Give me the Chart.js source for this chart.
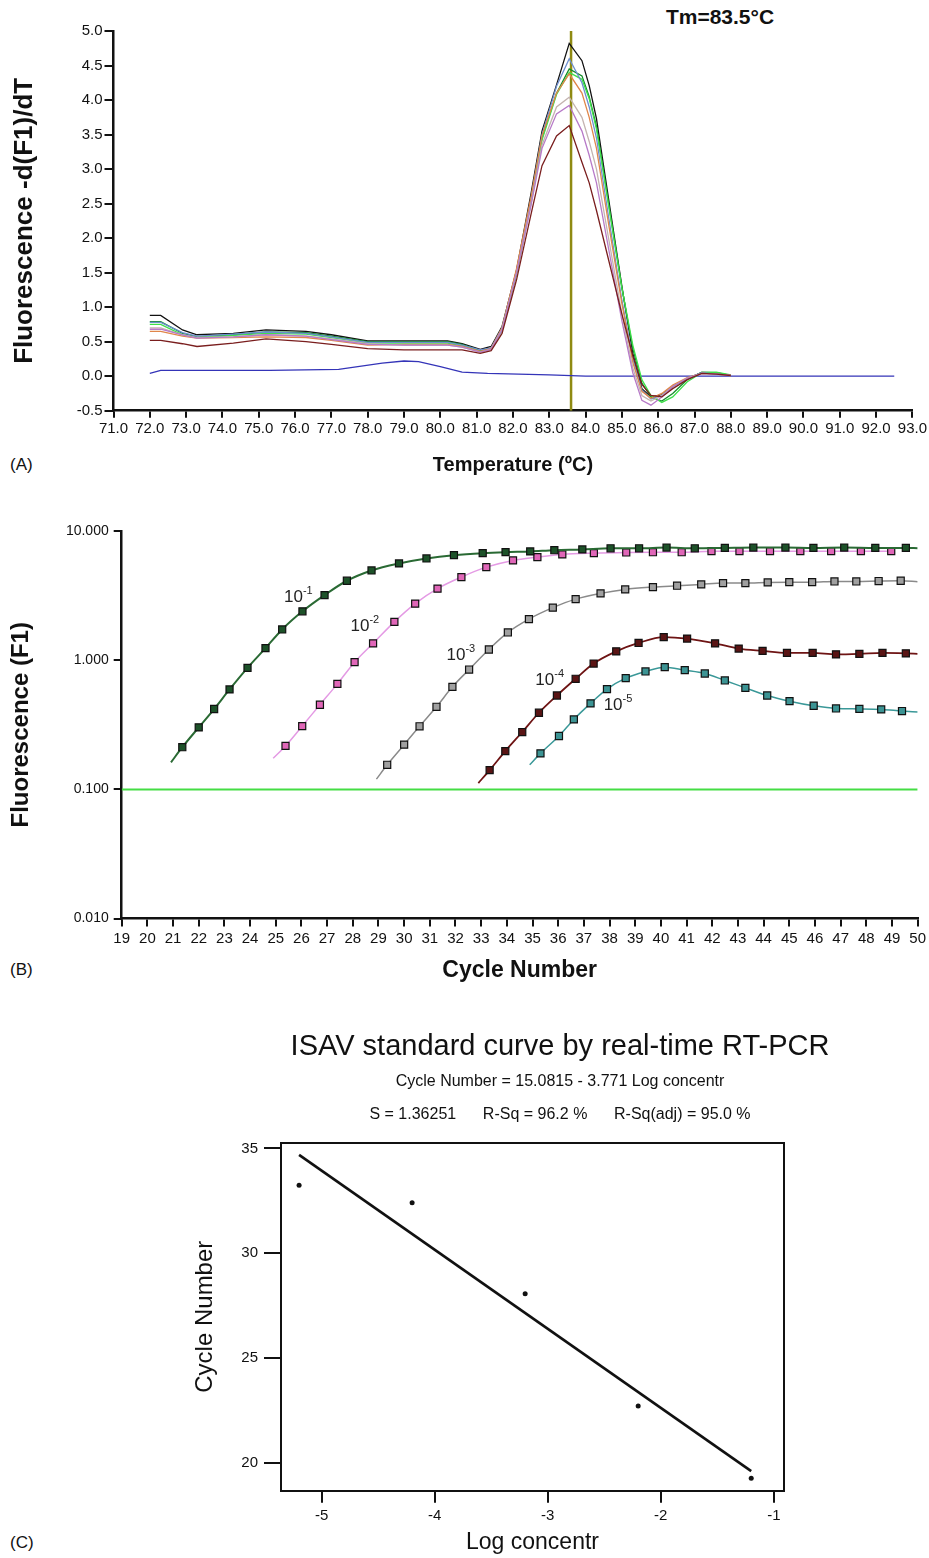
<!DOCTYPE html>
<html>
<head>
<meta charset="utf-8">
<script src="https://cdn.jsdelivr.net/npm/chart.js@4.4.1/dist/chart.umd.min.js"></script>
<style>
  body { margin: 0; background: #fff; width: 929px; height: 1558px; position: relative; overflow: hidden;
         font-family: 'Liberation Sans', Arial, sans-serif; color: #111; }
  canvas { position: absolute; left: 0; }
  .tag { position: absolute; left: 10px; font-size: 17px; line-height: 20px; font-family: 'Liberation Sans Narrow', 'Liberation Sans', Arial, sans-serif; }
  #tm { position: absolute; left: 640px; width: 160px; top: 4px; text-align: center; font-weight: bold; font-size: 21px; line-height: 26px; }
</style>
</head>
<body>
<div id="tm">Tm=83.5°C</div>
<div class="tag" style="top:455px">(A)</div>
<div class="tag" style="top:960px">(B)</div>
<div class="tag" style="top:1533px">(C)</div>
<canvas id="meltChart" width="929" height="490" style="top:0"></canvas>
<canvas id="ampChart" width="929" height="510" style="top:490px"></canvas>
<canvas id="stdChart" width="929" height="558" style="top:1000px"></canvas>
<script>
// ---- (A) melt curves: -d(F1)/dT against temperature ----
const meltTemps = [72.0, 72.3, 72.9, 73.3, 74.3, 75.2, 76.3, 77.0, 78.0, 79.0, 80.2, 80.6, 81.1, 81.4, 81.7, 82.1, 82.5, 82.8,
                   83.2, 83.55, 83.9, 84.1, 84.3, 84.65, 85.0, 85.3, 85.55, 85.8, 86.1, 86.4, 86.8, 87.2, 87.6, 88.0];
const meltBlack  = [0.88, 0.88, 0.67, 0.60, 0.62, 0.67, 0.65, 0.60, 0.51, 0.51, 0.51, 0.47, 0.39, 0.43, 0.72, 1.54, 2.65, 3.55,
                    4.22, 4.82, 4.57, 4.21, 3.73, 2.51, 1.30, 0.33, -0.18, -0.30, -0.27, -0.15, -0.03, 0.05, 0.04, 0.01];
const meltGreen  = [0.79, 0.79, 0.62, 0.57, 0.60, 0.64, 0.63, 0.58, 0.50, 0.50, 0.50, 0.46, 0.37, 0.40, 0.68, 1.50, 2.55, 3.45,
                    4.10, 4.45, 4.35, 4.05, 3.62, 2.45, 1.28, 0.40, -0.10, -0.30, -0.36, -0.25, -0.05, 0.06, 0.05, 0.01];
const meltLime   = [0.75, 0.75, 0.60, 0.56, 0.59, 0.62, 0.61, 0.56, 0.48, 0.48, 0.48, 0.44, 0.36, 0.40, 0.66, 1.48, 2.52, 3.42,
                    4.08, 4.40, 4.30, 4.02, 3.58, 2.42, 1.28, 0.45, -0.05, -0.28, -0.38, -0.30, -0.08, 0.05, 0.06, 0.02];
const meltSteel  = [0.78, 0.78, 0.63, 0.58, 0.61, 0.64, 0.62, 0.57, 0.49, 0.49, 0.49, 0.45, 0.38, 0.41, 0.70, 1.52, 2.58, 3.50,
                    4.20, 4.60, 4.25, 3.90, 3.45, 2.25, 1.10, 0.25, -0.20, -0.33, -0.28, -0.15, -0.03, 0.05, 0.03, 0.01];
const meltOrange = [0.65, 0.65, 0.58, 0.55, 0.56, 0.57, 0.56, 0.52, 0.45, 0.46, 0.46, 0.43, 0.36, 0.40, 0.70, 1.56, 2.60, 3.48,
                    4.10, 4.38, 4.10, 3.75, 3.30, 2.15, 1.05, 0.20, -0.22, -0.32, -0.25, -0.13, -0.02, 0.04, 0.03, 0.01];
const meltGrey   = [0.70, 0.70, 0.60, 0.56, 0.57, 0.60, 0.58, 0.54, 0.47, 0.45, 0.45, 0.42, 0.35, 0.39, 0.68, 1.50, 2.50, 3.35,
                    3.90, 4.04, 3.75, 3.40, 3.00, 1.95, 0.90, 0.12, -0.28, -0.36, -0.28, -0.15, -0.03, 0.04, 0.03, 0.01];
const meltPurple = [0.68, 0.68, 0.60, 0.55, 0.57, 0.60, 0.58, 0.53, 0.46, 0.45, 0.45, 0.42, 0.35, 0.39, 0.67, 1.50, 2.48, 3.30,
                    3.80, 3.92, 3.55, 3.20, 2.80, 1.80, 0.80, 0.05, -0.35, -0.42, -0.30, -0.15, -0.03, 0.04, 0.03, 0.01];
const meltBrown  = [0.52, 0.52, 0.47, 0.43, 0.48, 0.54, 0.50, 0.46, 0.40, 0.38, 0.38, 0.38, 0.33, 0.37, 0.62, 1.40, 2.35, 3.05,
                    3.48, 3.63, 3.10, 2.80, 2.40, 1.65, 0.90, 0.30, -0.12, -0.28, -0.30, -0.18, -0.05, 0.04, 0.03, 0.01];
const ntcTemps   = [72.0, 72.3, 75.3, 77.2, 78.4, 79.0, 79.4, 80.0, 80.6, 81.3, 83.0, 84.0, 92.5];
const ntcValues  = [0.04, 0.085, 0.085, 0.10, 0.19, 0.22, 0.21, 0.14, 0.06, 0.04, 0.02, 0.0, 0.0];
const tmMarker = 83.6;

// ---- (B) amplification curves, one per dilution ----
const d1Cycles = [20.92, 21.36, 22.0, 22.6, 23.2, 23.9, 24.6, 25.25, 26.04, 26.9, 27.77, 28.73, 29.8, 30.87, 31.94, 33.06,
                  33.95, 34.91, 35.85, 36.94, 38.04, 39.15, 40.22, 41.32, 42.49, 43.6, 44.85, 45.94, 47.14, 48.35, 49.54, 50.0];
const d1Values = [0.162, 0.212, 0.302, 0.419, 0.594, 0.873, 1.24, 1.73, 2.39, 3.19, 4.12, 4.95, 5.61, 6.13, 6.50, 6.74,
                  6.86, 6.95, 7.10, 7.20, 7.35, 7.35, 7.45, 7.35, 7.40, 7.45, 7.45, 7.40, 7.45, 7.40, 7.40, 7.35];
const d2Cycles = [24.9, 25.38, 26.03, 26.72, 27.4, 28.07, 28.79, 29.62, 30.43, 31.3, 32.23, 33.2, 34.24, 35.19, 36.16,
                  37.39, 38.65, 39.69, 40.81, 41.97, 43.06, 44.25, 45.43, 46.63, 47.79, 48.97];
const d2Values = [0.174, 0.217, 0.309, 0.452, 0.656, 0.966, 1.35, 1.98, 2.74, 3.58, 4.40, 5.25, 5.92, 6.28, 6.59,
                  6.74, 6.82, 6.85, 6.85, 6.98, 6.98, 6.98, 6.98, 6.98, 6.98, 6.98];
const d3Cycles = [28.92, 29.34, 30.0, 30.6, 31.26, 31.88, 32.53, 33.3, 34.04, 34.86, 35.79, 36.68, 37.65, 38.61, 39.69,
                  40.63, 41.57, 42.42, 43.29, 44.16, 45.0, 45.89, 46.76, 47.61, 48.48, 49.34, 50.0];
const d3Values = [0.12, 0.155, 0.222, 0.308, 0.436, 0.622, 0.847, 1.21, 1.64, 2.08, 2.55, 2.97, 3.29, 3.53, 3.68,
                  3.77, 3.86, 3.95, 3.95, 4.0, 4.02, 4.02, 4.07, 4.07, 4.1, 4.12, 4.05];
const d4Cycles = [32.89, 33.33, 33.94, 34.6, 35.25, 35.95, 36.68, 37.38, 38.26, 39.13, 40.11, 41.02, 42.11, 43.03, 43.96,
                  44.91, 45.91, 46.82, 47.73, 48.63, 49.54, 50.0];
const d4Values = [0.112, 0.141, 0.198, 0.278, 0.392, 0.533, 0.718, 0.942, 1.17, 1.36, 1.51, 1.47, 1.35, 1.23, 1.18,
                  1.14, 1.14, 1.11, 1.12, 1.14, 1.13, 1.12];
const d5Cycles = [34.89, 35.31, 36.03, 36.61, 37.26, 37.9, 38.63, 39.4, 40.15, 40.93, 41.71, 42.49, 43.29, 44.14, 45.01,
                  45.95, 46.82, 47.73, 48.58, 49.39, 50.0];
const d5Values = [0.155, 0.19, 0.259, 0.348, 0.463, 0.597, 0.726, 0.818, 0.883, 0.837, 0.789, 0.697, 0.611, 0.533, 0.482,
                  0.444, 0.423, 0.42, 0.416, 0.404, 0.397];
const dilutionExps  = ['-1', '-2', '-3', '-4', '-5'];
const labelCycles   = [25.32, 27.91, 31.65, 35.11, 37.77];
const labelLevels   = [3.07, 1.84, 1.093, 0.701, 0.449];
const fluorTicks    = [0.01, 0.1, 1, 10];
const threshold     = 0.1;

// ---- (C) standard curve ----
const logConc   = [-5.2, -4.2, -3.2, -2.2, -1.2];
const cycleNum  = [33.24, 32.41, 28.06, 22.71, 19.26];
const fitIntercept = 15.0815;
const fitSlope     = -3.771;
const concTicks    = [-5, -4, -3, -2, -1];
const cycleTicks   = [20, 25, 30, 35];

const NARROW = "'Liberation Sans Narrow', 'Liberation Sans', Arial, sans-serif";
const SANS = "'Liberation Sans', Arial, sans-serif";
const INK = '#111';

function pts(xs, ys) { return xs.map((x, i) => ({ x: x, y: ys[i] })); }

function axisLook(extra) {
  return Object.assign({
    grid: { drawOnChartArea: false, color: INK, lineWidth: 2, tickLength: 8 },
    border: { color: INK, width: 2.5 }
  }, extra);
}

// (A)
const meltSeries = [
  [meltBrown, '#7a1e1e'], [meltPurple, '#b77ac8'], [meltGrey, '#c4b4b0'], [meltOrange, '#e0864a'],
  [meltSteel, '#6d8fd0'], [meltLime, '#3ee04a'], [meltGreen, '#148c2a'], [meltBlack, '#111111']
];
new Chart(document.getElementById('meltChart'), {
  type: 'line',
  data: {
    datasets: meltSeries.map(([vals, col]) => ({
      data: pts(meltTemps, vals), borderColor: col, borderWidth: 1.3
    })).concat([
      { data: pts(ntcTemps, ntcValues), borderColor: '#3434b8', borderWidth: 1.3 },
      { data: [{ x: tmMarker, y: -0.5 }, { x: tmMarker, y: 5.0 }], borderColor: '#8f8a12', borderWidth: 2.5 }
    ])
  },
  options: {
    responsive: false, animation: false,
    layout: { padding: { top: 31, right: 16, left: 0, bottom: 0 } },
    plugins: { legend: { display: false }, tooltip: { enabled: false } },
    elements: { point: { radius: 0 }, line: { tension: 0 } },
    scales: {
      x: axisLook({
        type: 'linear', min: 71, max: 93,
        afterFit: s => { s.height = 79.3; },
        grid: { drawOnChartArea: false, color: INK, lineWidth: 2, tickLength: 7 },
        ticks: { stepSize: 1, autoSkip: false, maxRotation: 0, padding: 2, color: INK,
                 font: { family: NARROW, size: 15 }, callback: v => Number(v).toFixed(1) },
        title: { display: true, text: 'Temperature (ºC)', color: INK,
                 font: { family: NARROW, size: 20, weight: 'bold' }, padding: { top: 0, bottom: 13 } }
      }),
      y: axisLook({
        min: -0.5, max: 5,
        afterFit: s => { s.width = 113.5; },
        grid: { drawOnChartArea: false, color: INK, lineWidth: 2, tickLength: 9 },
        ticks: { stepSize: 0.5, padding: 2, color: INK, font: { family: SANS, size: 15 },
                 callback: v => Number(v).toFixed(1) },
        title: { display: true, text: 'Fluorescence -d(F1)/dT', color: INK,
                 font: { family: SANS, size: 26, weight: 'bold' }, padding: { top: 9, bottom: 0 } }
      })
    }
  }
});

// (B)
const dilutionLabels = {
  id: 'dilutionLabels',
  afterDatasetsDraw(chart) {
    const { ctx, scales: { x, y } } = chart;
    ctx.save();
    ctx.fillStyle = '#222';
    ctx.textBaseline = 'middle';
    dilutionExps.forEach((e, i) => {
      const px = x.getPixelForValue(labelCycles[i]);
      const py = y.getPixelForValue(labelLevels[i]);
      ctx.font = '17px ' + NARROW;
      ctx.fillText('10', px, py);
      const w = ctx.measureText('10').width;
      ctx.font = '11px ' + NARROW;
      ctx.fillText(e, px + w, py - 6);
    });
    ctx.restore();
  }
};

const ampSeries = [
  { c: d1Cycles, v: d1Values, line: '#2a6a34', fill: '#1d5229', w: 2, tail: true },
  { c: d2Cycles, v: d2Values, line: '#e49ae4', fill: '#e066b8', w: 1.5, tail: false },
  { c: d3Cycles, v: d3Values, line: '#8a8a8a', fill: '#a0a0a0', w: 1.5, tail: true },
  { c: d4Cycles, v: d4Values, line: '#6e1414', fill: '#5a1414', w: 1.8, tail: true },
  { c: d5Cycles, v: d5Values, line: '#3a9898', fill: '#3c9494', w: 1.5, tail: true }
];
new Chart(document.getElementById('ampChart'), {
  type: 'line',
  data: {
    datasets: [
      { data: [{ x: 19, y: threshold }, { x: 50, y: threshold }], borderColor: '#44dd44', borderWidth: 2, pointRadius: 0 }
    ].concat(ampSeries.map(s => ({
      data: pts(s.c, s.v), borderColor: s.line, borderWidth: s.w,
      cubicInterpolationMode: 'monotone',
      pointStyle: 'rect', pointBackgroundColor: s.fill, pointBorderColor: INK, pointBorderWidth: 1.2,
      pointRadius: ctx => (ctx.dataIndex === 0 || (s.tail && ctx.dataIndex === s.c.length - 1)) ? 0 : 5
    })))
  },
  options: {
    responsive: false, animation: false,
    layout: { padding: { top: 41, right: 11, left: 0, bottom: 0 } },
    plugins: { legend: { display: false }, tooltip: { enabled: false } },
    scales: {
      x: axisLook({
        type: 'linear', min: 19, max: 50,
        afterFit: s => { s.height = 81.4; },
        ticks: { stepSize: 1, autoSkip: false, maxRotation: 0, padding: 3, color: INK,
                 font: { family: NARROW, size: 15 } },
        title: { display: true, text: 'Cycle Number', color: INK,
                 font: { family: NARROW, size: 23, weight: 'bold' }, padding: { top: 0, bottom: 16 } }
      }),
      y: axisLook({
        type: 'logarithmic', min: 0.01, max: 10,
        afterFit: s => { s.width = 121.7; },
        afterBuildTicks: s => { s.ticks = fluorTicks.map(v => ({ value: v })); },
        ticks: { padding: 5, color: INK, font: { family: SANS, size: 14 }, callback: v => Number(v).toFixed(3) },
        title: { display: true, text: 'Fluorescence (F1)', color: INK,
                 font: { family: SANS, size: 24, weight: 'bold' }, padding: { top: 7, bottom: 0 } }
      })
    }
  },
  plugins: [dilutionLabels]
});

// (C)
const fitEnds = [logConc[0], logConc[logConc.length - 1]];
new Chart(document.getElementById('stdChart'), {
  type: 'scatter',
  data: {
    datasets: [
      { data: pts(logConc, cycleNum), pointRadius: 2.5, pointBackgroundColor: INK, pointBorderWidth: 0 },
      { type: 'line', data: fitEnds.map(x => ({ x: x, y: fitIntercept + fitSlope * x })),
        borderColor: INK, borderWidth: 2.6, pointRadius: 0 }
    ]
  },
  options: {
    responsive: false, animation: false,
    layout: { padding: { top: 0, right: 0, left: 191, bottom: 0 } },
    plugins: {
      legend: { display: false }, tooltip: { enabled: false },
      title: { display: true, text: 'ISAV standard curve by real-time RT-PCR', color: INK,
               font: { family: SANS, size: 29, weight: 'normal' }, padding: { top: 30, bottom: 0 } },
      subtitle: { display: true, color: INK,
                  text: ['Cycle Number = 15.0815 - 3.771 Log concentr',
                         'S = 1.36251      R-Sq = 96.2 %      R-Sq(adj) = 95.0 %'],
                  font: { family: SANS, size: 16, lineHeight: 2.06 }, padding: { top: 0, bottom: 12 } }
    },
    scales: {
      x: {
        type: 'linear', position: 'bottom', min: -5.36, max: -0.91,
        afterFit: s => { s.height = 67.3; },
        afterBuildTicks: s => { s.ticks = concTicks.map(v => ({ value: v })); },
        grid: { drawOnChartArea: false, color: INK, lineWidth: 2, tickLength: 12 },
        border: { color: INK, width: 2 },
        ticks: { padding: 4, color: INK, font: { family: SANS, size: 15 } },
        title: { display: true, text: 'Log concentr', color: INK,
                 font: { family: SANS, size: 23 }, padding: { top: 0, bottom: 2 } }
      },
      y: {
        type: 'linear', position: 'left', min: 18.67, max: 35.27,
        afterFit: s => { s.width = 90; },
        afterBuildTicks: s => { s.ticks = cycleTicks.map(v => ({ value: v })); },
        grid: { drawOnChartArea: false, color: INK, lineWidth: 2, tickLength: 17 },
        border: { color: INK, width: 2 },
        ticks: { padding: 6, color: INK, font: { family: SANS, size: 15 } },
        title: { display: true, text: 'Cycle Number', color: INK,
                 font: { family: SANS, size: 24 }, padding: { top: 0, bottom: 0 } }
      },
      x2: {
        type: 'linear', position: 'top', afterFit: s => { s.height = 0; },
        ticks: { display: false }, grid: { display: false }, border: { color: INK, width: 2 }
      },
      y2: {
        type: 'linear', position: 'right', afterFit: s => { s.width = 145; },
        ticks: { display: false }, grid: { display: false }, border: { color: INK, width: 2 }
      }
    }
  }
});
</script>
</body>
</html>
